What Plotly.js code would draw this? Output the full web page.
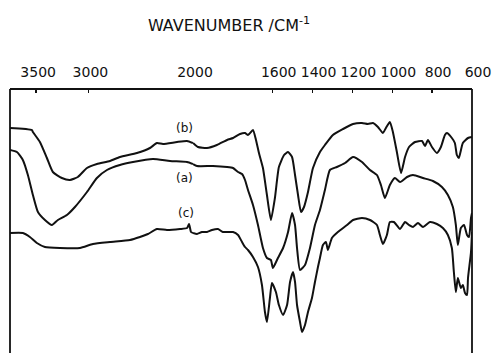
<!DOCTYPE html>
<html>
<head>
<meta charset="utf-8">
<script src="https://cdn.plot.ly/plotly-3.0.1.min.js"></script>
<style>html,body{margin:0;padding:0;background:#fff;overflow:hidden}#chart{width:503px;height:353px}</style>
</head>
<body>
<div id="chart"></div>
<script>
// Wavenumbers (cm^-1) and transmittance (arbitrary units)
const wnB = [3750,3541,3531,3464,3397,3340,3254,3177,3101,3014,2919,2794,2699,2536,2412,2345,2287,2153,2057,2000,1975,1930,1880,1829,1799,1764,1739,1724,1699,1684,1669,1649,1629,1609,1589,1569,1543,1523,1503,1488,1473,1458,1443,1423,1398,1363,1338,1298,1247,1197,1152,1122,1097,1072,1047,1032,1012,997,977,956,936,916,886,851,836,821,801,776,756,736,726,701,686,676,666,646,620,600];
const tB = [225,223,221,211,195,181,175,173,176,185,189,192,196,200,205,210,209,211,212,210,206,205,208,213,215,219,220,218,223,213,200,185,158,133,155,186,198,201,196,178,158,141,146,161,185,201,208,218,224,229,230,229,230,226,220,225,231,221,201,180,196,206,211,212,207,213,206,200,206,218,220,215,210,198,195,210,215,216];

const wnA = [3750,3684,3627,3579,3531,3483,3416,3349,3292,3206,3129,3014,2919,2823,2699,2574,2383,2220,2057,2000,1980,1900,1829,1799,1774,1754,1739,1724,1699,1674,1649,1629,1609,1599,1574,1548,1523,1503,1488,1478,1463,1438,1413,1388,1363,1338,1313,1278,1237,1197,1152,1112,1077,1057,1037,1012,987,961,926,896,846,796,751,721,696,681,671,656,640,625,615,605,600];
const tA = [203,201,193,178,158,141,133,128,133,138,146,161,175,183,188,191,194,192,191,189,187,187,186,185,181,179,173,163,148,128,105,95,93,85,95,105,121,140,128,105,83,88,105,128,143,163,183,186,190,196,191,183,178,168,155,168,175,171,176,178,175,172,166,158,146,128,108,125,128,118,116,135,140];

const wnC = [3750,3627,3560,3493,3416,3273,3081,2957,2794,2603,2507,2431,2345,2249,2124,2057,2038,2019,2000,1980,1955,1930,1905,1875,1850,1799,1774,1754,1739,1724,1699,1674,1654,1639,1629,1614,1604,1584,1569,1548,1528,1513,1498,1488,1478,1463,1453,1438,1423,1403,1388,1373,1363,1348,1333,1323,1303,1273,1227,1197,1152,1112,1077,1062,1047,1027,1012,992,961,936,916,896,871,846,811,776,746,721,701,691,681,671,656,646,635,625,620,605,600];
const tC = [120,120,116,110,106,105,105,109,111,113,116,119,124,123,124,125,129,121,120,119,121,121,123,124,121,121,118,111,106,103,96,86,68,41,31,55,70,61,48,38,48,71,81,71,48,31,21,28,41,55,71,86,95,108,111,103,115,121,128,133,135,133,128,118,109,118,131,131,124,131,128,126,130,126,131,129,125,118,105,81,61,75,65,68,60,58,75,101,121];

const seriesLabels = ['(b)','(a)','(c)'];
const labelWn = [2077,2077,2068];
const labelT = [225,175,140];

const ticksHigh = [3500,3000,2000];
const ticksLow = [1600,1400,1200,1000,800,600];
const BREAK = 2000;

const series = [[wnB,tB],[wnA,tA],[wnC,tC]];
const traces = [];
const line = {color:'#111', width:2, shape:'spline', smoothing:0.5};
series.forEach(([wn,t]) => {
  const hx=[],hy=[],lx=[],ly=[];
  wn.forEach((w,i)=>{ if(w>=BREAK){hx.push(w);hy.push(t[i]);} if(w<=BREAK){lx.push(w);ly.push(t[i]);} });
  traces.push({x:hx,y:hy,xaxis:'x',yaxis:'y',mode:'lines',line:line,hoverinfo:'skip'});
  traces.push({x:lx,y:ly,xaxis:'x2',yaxis:'y',mode:'lines',line:line,hoverinfo:'skip'});
});

const font = {family:'DejaVu Sans, sans-serif', color:'#111'};
const xCommon = {side:'top', ticks:'inside', ticklen:4, tickwidth:1.5, tickcolor:'#111',
  showgrid:false, zeroline:false, showline:false, tickmode:'array',
  tickfont:{family:font.family, size:14, color:'#111'}, ticklabelstandoff:8, fixedrange:true};
const split = (193-10)/462;
const layout = {
  width:503, height:353,
  margin:{l:10, r:31, t:89, b:0},
  paper_bgcolor:'#fff', plot_bgcolor:'#fff',
  showlegend:false,
  title:{text:'WAVENUMBER /CM<sup>-1</sup>', font:{family:font.family, size:16, color:'#111'},
         x:229/503, xanchor:'center', y:1-25/353, yanchor:'middle'},
  xaxis:Object.assign({}, xCommon, {domain:[0,split], range:[3750,BREAK], tickvals:ticksHigh, ticktext:ticksHigh.map(String), ticklabelshift:-2, anchor:'y'}),
  xaxis2:Object.assign({}, xCommon, {domain:[split,1], range:[BREAK,600], tickvals:ticksLow, ticktext:ticksLow.map(String), ticklabelshift:-6, anchor:'y'}),
  yaxis:{range:[0,264], showgrid:false, zeroline:false, showticklabels:false, ticks:'', showline:false, fixedrange:true},
  shapes:[
    {type:'line', xref:'paper', yref:'paper', x0:0, x1:0, y0:0, y1:1, line:{color:'#111', width:1.8}},
    {type:'line', xref:'paper', yref:'paper', x0:1, x1:1, y0:0, y1:1, line:{color:'#111', width:1.8}},
    {type:'line', xref:'paper', yref:'paper', x0:0, x1:1, y0:1, y1:1, line:{color:'#111', width:1.8}}
  ],
  annotations: seriesLabels.map((s,i)=>({text:s, x:labelWn[i], y:labelT[i], xref:'x', yref:'y',
    showarrow:false, font:{family:font.family, size:12, color:'#111'}, xanchor:'center', yanchor:'middle'}))
};
Plotly.newPlot('chart', traces, layout, {staticPlot:true, displayModeBar:false});
</script>
</body>
</html>
